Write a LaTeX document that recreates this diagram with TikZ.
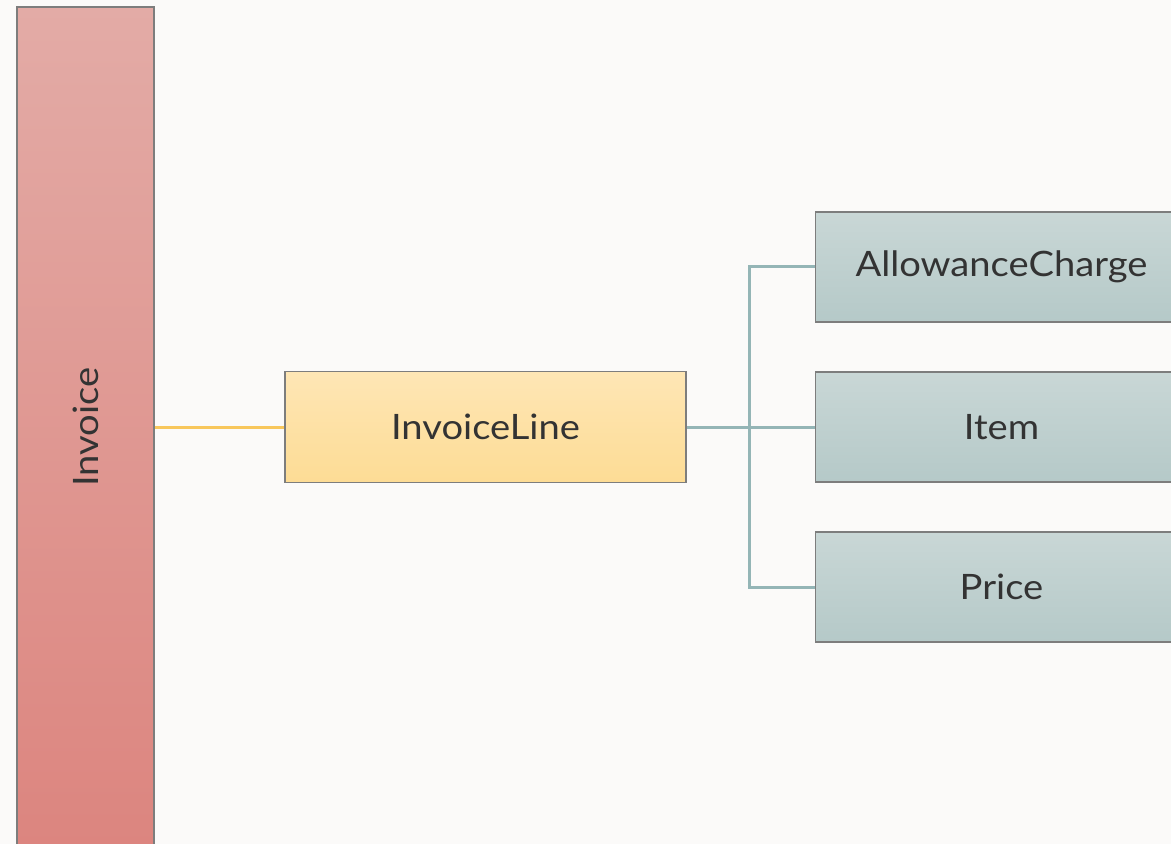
\documentclass[tikz,border=0pt]{standalone}
\usepackage{fontspec}
\setmainfont{Lato}[FakeStretch=1.09]
\usepackage{xcolor}
\usetikzlibrary{positioning}

\definecolor{pagebg}{HTML}{FBFAF9}
\definecolor{invtop}{HTML}{E3ABA6}
\definecolor{invbot}{HTML}{DC857F}
\definecolor{linetop}{HTML}{FEE6B5}
\definecolor{linebot}{HTML}{FDDC95}
\definecolor{kidtop}{HTML}{C9D7D6}
\definecolor{kidbot}{HTML}{B5C9C8}
\definecolor{edgegray}{HTML}{7D7D7D}
\definecolor{goldline}{HTML}{F8C75C}
\definecolor{tealline}{HTML}{94B5B6}
\definecolor{labeltext}{HTML}{333333}

\begin{document}
\begin{tikzpicture}[
    x=0.5pt,
    y=-0.5pt,
    node distance=24.25pt,
    font=\fontsize{17.5}{21}\selectfont,
    text=labeltext
]

\tikzstyle{box}=[
    rectangle,
    draw=edgegray,
    line width=0.75pt,
    inner sep=0pt,
    align=center
]
\tikzstyle{invbar}=[box, top color=invtop, bottom color=invbot,
    minimum width=68.5pt, minimum height=420pt]
\tikzstyle{linebox}=[box, top color=linetop, bottom color=linebot,
    minimum width=200.5pt, minimum height=55.5pt]
\tikzstyle{kidbox}=[box, top color=kidtop, bottom color=kidbot,
    minimum width=186pt, minimum height=55pt]
\tikzstyle{goldwire}=[draw=goldline, line width=1.5pt]
\tikzstyle{tealwire}=[draw=tealline, line width=1.5pt]

% page
\fill[pagebg] (0,0) rectangle (1171,844);
\clip (0,0) rectangle (1171,844);

\node[invbar] (inv) at (85.5,427) {\rotatebox{90}{Invoice}};
\node[linebox, right=64.75pt of inv.east] (line) {InvoiceLine};
\node[kidbox, right=64pt of line] (item) {Item};
\node[kidbox, above=of item] (allow) {AllowanceCharge};
\node[kidbox, below=of item] (price) {Price};

\coordinate[right=31.5pt of line.east] (split);

\draw[goldwire] (inv.east) -- (line.west);
\draw[tealwire] (line.east) -- (split);
\foreach \kid in {allow,item,price}
    \draw[tealwire] (split) |- (\kid.west);

\end{tikzpicture}
\end{document}
